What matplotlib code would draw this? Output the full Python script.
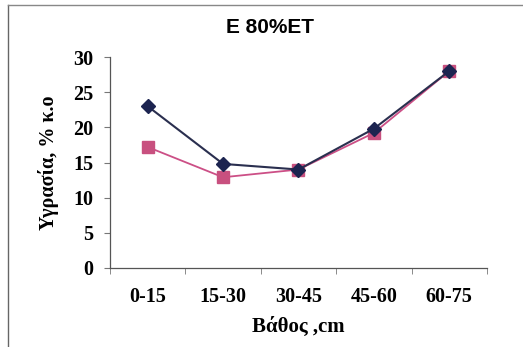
import matplotlib
matplotlib.use("Agg")
import matplotlib.pyplot as plt
from matplotlib.lines import Line2D

categories = ["0-15", "15-30", "30-45", "45-60", "60-75"]
series_a = [23.0, 14.8, 14.0, 19.8, 28.0]
series_b = [17.2, 12.9, 14.0, 19.2, 28.0]
yticks = [0, 5, 10, 15, 20, 25, 30]

fig = plt.figure(figsize=(5.23, 3.47), dpi=100)
ax = fig.add_axes([0.2103, 0.2277, 0.7207, 0.608])

x = list(range(len(categories)))
ax.plot(x, series_a, color="#2a2f4f", lw=1.5, marker="D", markersize=7,
        markerfacecolor="#1c2450", markeredgecolor="#1c2450", zorder=3)
ax.plot(x, series_b, color="#cc4f86", lw=1.3, marker="s", markersize=8,
        markerfacecolor="#c8507f", markeredgecolor="#c8507f", zorder=2)

ax.set_xlim(-0.5, len(categories) - 0.5)
ax.set_ylim(0, 30)
ax.set_yticks(yticks)
ax.set_yticklabels([str(v) for v in yticks], fontfamily="Liberation Serif",
                   fontweight="bold", fontsize=14.5)
ax.set_xticks(x)
ax.set_xticklabels(categories, fontfamily="Liberation Serif",
                   fontweight="bold", fontsize=14.5)
ax.tick_params(axis="x", length=0, pad=14)
ax.set_xticks([i + 0.5 for i in range(-1, len(categories))], minor=True)
ax.tick_params(axis="x", which="minor", length=4, direction="out", color="#777777")
ax.tick_params(axis="y", length=4, direction="out", color="#777777", pad=8)
for s in ["top", "right"]:
    ax.spines[s].set_visible(False)
for s in ["left", "bottom"]:
    ax.spines[s].set_color("#555555")
    ax.spines[s].set_linewidth(0.9)

ax.set_ylabel("Υγρασία, % κ.ο", fontfamily="Liberation Serif",
              fontweight="bold", fontsize=14.5, labelpad=10)
ax.set_xlabel("Βάθος ,cm", fontfamily="Liberation Serif",
              fontweight="bold", fontsize=15, labelpad=7)
fig.text(0.517, 0.922, "E 80%ET", ha="center", va="center",
         fontfamily="Liberation Sans", fontweight="bold", fontsize=15)

fig.add_artist(Line2D([0.016, 0.016], [0.0, 0.985], transform=fig.transFigure,
                      color="#666666", lw=1))
fig.add_artist(Line2D([0.016, 1.0], [0.985, 0.985], transform=fig.transFigure,
                      color="#888888", lw=1))

fig.savefig("out.png", dpi=100)
